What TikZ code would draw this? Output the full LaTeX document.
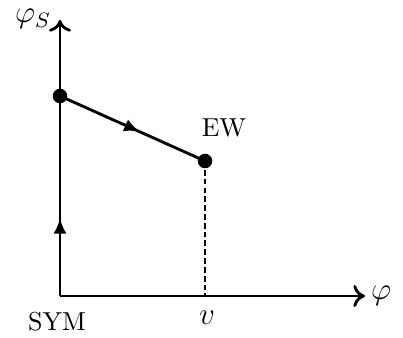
\documentclass[tikz,border=0pt]{standalone}
\usetikzlibrary{decorations.markings,arrows.meta}
\begin{document}
\begin{tikzpicture}[x=0.385pt,y=-0.385pt,
  axis/.style={line width=1.1pt,-{To[length=4.5pt,width=8.5pt,line width=1.1pt]}},
  flow/.style={line width=1.1pt,postaction={decorate},decoration={markings,mark=at position #1 with {\arrow{Latex[length=6pt,width=5pt]}}}},
  dot/.style={circle,fill=black,inner sep=0pt,minimum size=5.6pt},
  lbl/.style={inner sep=0pt},
  mlbl/.style={inner sep=0pt,font=\fontsize{11.5}{14}\selectfont}]
\useasboundingbox (0,0) rectangle (403,337);
\coordinate (O) at (60,296);
\coordinate (ytop) at (60,20);
\coordinate (xend) at (365,296);
\coordinate (vb) at (205,296);
\node[dot] (A) at (60,96) {};
\node[dot] (EW) at (205,161) {};
\draw[axis] (O) -- (ytop);
\draw[axis] (O) -- (xend);
\draw[flow=0.39] (O) -- (A.center);
\draw[flow=0.55] (A.center) -- (EW.center);
\draw[line width=1.1pt,dash pattern=on 2.2pt off 1.2pt] (EW.center) -- (vb);
\node[mlbl] (lphis) at (33,19) {$\varphi_S$};
\node[mlbl] (lphi) at (381,296) {$\varphi$};
\node[lbl] (lew) at (224,128) {EW};
\node[lbl] (lsym) at (57,322) {SYM};
\node[mlbl] (lv) at (207,318) {$v$};
\end{tikzpicture}
\end{document}
